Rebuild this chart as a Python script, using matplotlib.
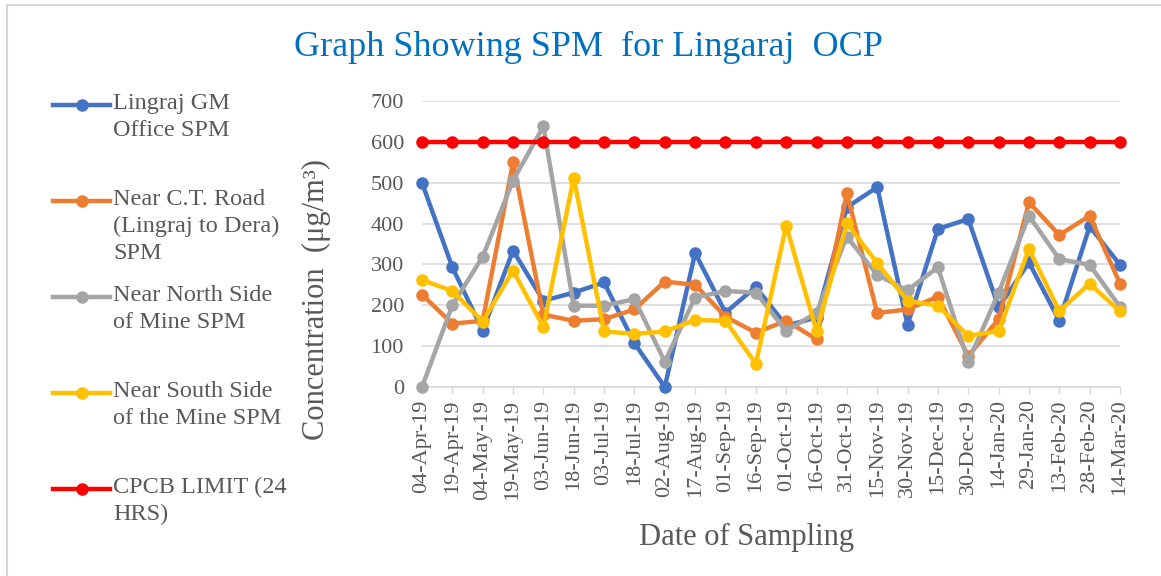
import matplotlib
matplotlib.use("Agg")
import matplotlib.pyplot as plt
from matplotlib.lines import Line2D
from matplotlib.patches import Rectangle

plt.rcParams["font.family"] = ["Liberation Serif", "DejaVu Serif"]

# ---- data (SPM, ug/m3)
dates = ["04-Apr-19", "19-Apr-19", "04-May-19", "19-May-19", "03-Jun-19", "18-Jun-19",
         "03-Jul-19", "18-Jul-19", "02-Aug-19", "17-Aug-19", "01-Sep-19", "16-Sep-19",
         "01-Oct-19", "16-Oct-19", "31-Oct-19", "15-Nov-19", "30-Nov-19", "15-Dec-19",
         "30-Dec-19", "14-Jan-20", "29-Jan-20", "13-Feb-20", "28-Feb-20", "14-Mar-20"]
gm_office = [500, 293, 138, 334, 211, 231, 256, 107, 0, 328, 182, 245,
             150, 170, 440, 489, 152, 387, 411, 195, 305, 162, 393, 299]
ct_road = [226, 155, 162, 550, 177, 162, 166, 190, 258, 250, 172, 133,
           162, 117, 474, 181, 190, 221, 76, 166, 452, 372, 419, 253]
north_side = [0, 200, 319, 505, 638, 199, 199, 215, 62, 219, 235, 231,
              137, 182, 368, 274, 237, 293, 62, 231, 419, 313, 299, 196]
south_side = [262, 235, 160, 285, 147, 512, 136, 130, 136, 164, 162, 57,
              395, 137, 401, 303, 211, 199, 125, 137, 338, 186, 253, 185]
cpcb_limit = [600] * len(dates)

labels = ["Lingraj GM\nOffice SPM",
          "Near C.T. Road\n(Lingraj to Dera)\nSPM",
          "Near North Side\nof Mine SPM",
          "Near South Side\nof the Mine SPM",
          "CPCB LIMIT (24\nHRS)"]
colors = ["#4472C4", "#ED7D31", "#A5A5A5", "#FFC000", "#FF0000"]
series = [gm_office, ct_road, north_side, south_side, cpcb_limit]

TXT = "#595959"
GRID = "#D9D9D9"
W, H = 1161, 576

fig = plt.figure(figsize=(W / 100, H / 100), dpi=100)
ax = fig.add_axes([422 / W, 1 - 387 / H, 698 / W, 286 / H])

x = list(range(len(dates)))
for vals, c in zip(series, colors):
    ax.plot(x, vals, color=c, lw=3.2, marker="o", markersize=8, clip_on=False, zorder=3)

ax.set_xlim(0, len(dates) - 1)
ax.set_ylim(0, 700)
ax.set_yticks(range(0, 701, 100))
ax.set_xticks(x)
ax.set_xticklabels(dates, rotation=90, fontsize=16, color=TXT)
ax.tick_params(axis="y", length=0, pad=13, labelsize=16, labelcolor=TXT)
ax.tick_params(axis="x", length=5, width=1, color=GRID, pad=4)
ax.grid(axis="y", color=GRID, lw=1.2)
ax.set_axisbelow(True)
for s in ("top", "right", "left"):
    ax.spines[s].set_visible(False)
ax.spines["bottom"].set_color(GRID)
ax.spines["bottom"].set_linewidth(1.2)

# ---- titles / axis labels
fig.text(588 / W, 1 - 47 / H, "Graph Showing SPM  for Lingaraj  OCP",
         ha="center", va="center", fontsize=26, color="#0070C0")
fig.text(316 / W, 1 - 300 / H, "Concentration  (μg/m³)", rotation=90,
         ha="center", va="center", fontsize=22, color=TXT)
fig.text(747 / W, 1 - 537 / H, "Date of Sampling",
         ha="center", va="center", fontsize=22, color=TXT)

# ---- legend on the left, drawn by hand
handle_y = [105, 201, 297, 393, 489]
for lab, c, hy in zip(labels, colors, handle_y):
    fig.add_artist(Line2D([53 / W, 110 / W], [1 - hy / H] * 2, color=c, lw=3.2,
                          transform=fig.transFigure))
    fig.add_artist(Line2D([82 / W], [1 - hy / H], color=c, marker="o", markersize=8,
                          transform=fig.transFigure))
    fig.text(113 / W, 1 - (hy - 12) / H, lab, ha="left", va="top",
             fontsize=17.5, color=TXT, linespacing=1.38)

# ---- chart-area border (top and left edges visible)
fig.add_artist(Rectangle((7 / W, -0.2), 2, (H - 5) / H + 0.2, transform=fig.transFigure,
                         fill=False, edgecolor=GRID, lw=1.5))

fig.savefig("out.png", dpi=100)
